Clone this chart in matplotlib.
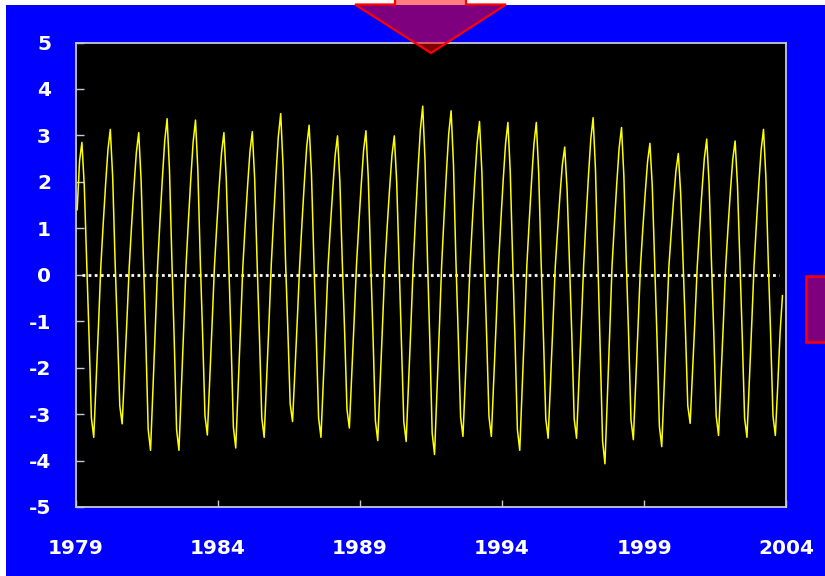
import matplotlib
matplotlib.use("Agg")
import matplotlib.pyplot as plt
import numpy as np
from matplotlib.patches import Polygon, Rectangle

plt.rcParams["axes.unicode_minus"] = False

# monthly anomaly, one row per year (Jan..Dec)
years = list(range(1979, 2004))
anomaly = [
    [1.40, 2.45, 2.85, 1.91, 0.29, -1.30, -3.08, -3.50, -2.31, -1.09, 0.19, 1.10],  # 1979
    [1.94, 2.69, 3.13, 2.10, 0.31, -1.19, -2.82, -3.21, -2.12, -1.00, 0.18, 1.07],  # 1980
    [1.90, 2.63, 3.06, 2.05, 0.31, -1.40, -3.33, -3.78, -2.49, -1.17, 0.20, 1.18],  # 1981
    [2.08, 2.89, 3.36, 2.25, 0.34, -1.40, -3.33, -3.78, -2.49, -1.17, 0.20, 1.17],  # 1982
    [2.06, 2.86, 3.33, 2.23, 0.33, -1.28, -3.04, -3.45, -2.28, -1.07, 0.18, 1.07],  # 1983
    [1.90, 2.63, 3.06, 2.05, 0.31, -1.38, -3.28, -3.73, -2.46, -1.16, 0.18, 1.08],  # 1984
    [1.91, 2.65, 3.08, 2.06, 0.31, -1.30, -3.08, -3.50, -2.31, -1.09, 0.21, 1.21],  # 1985
    [2.15, 2.98, 3.47, 2.32, 0.35, -1.17, -2.78, -3.16, -2.09, -0.98, 0.19, 1.13],  # 1986
    [2.00, 2.77, 3.22, 2.16, 0.32, -1.30, -3.08, -3.50, -2.31, -1.09, 0.18, 1.05],  # 1987
    [1.85, 2.57, 2.99, 2.00, 0.30, -1.22, -2.90, -3.30, -2.18, -1.02, 0.19, 1.09],  # 1988
    [1.92, 2.67, 3.10, 2.08, 0.31, -1.32, -3.14, -3.57, -2.36, -1.11, 0.18, 1.05],  # 1989
    [1.85, 2.57, 2.99, 2.00, 0.30, -1.33, -3.16, -3.59, -2.37, -1.11, 0.22, 1.27],  # 1990
    [2.25, 3.12, 3.63, 2.43, 0.36, -1.43, -3.41, -3.87, -2.55, -1.20, 0.21, 1.24],  # 1991
    [2.19, 3.04, 3.53, 2.37, 0.35, -1.29, -3.06, -3.48, -2.30, -1.08, 0.20, 1.16],  # 1992
    [2.05, 2.84, 3.30, 2.21, 0.33, -1.29, -3.06, -3.48, -2.30, -1.08, 0.20, 1.15],  # 1993
    [2.03, 2.82, 3.28, 2.20, 0.33, -1.40, -3.33, -3.78, -2.49, -1.17, 0.20, 1.15],  # 1994
    [2.03, 2.82, 3.28, 2.20, 0.33, -1.30, -3.10, -3.52, -2.32, -1.09, 0.17, 0.96],  # 1995
    [1.71, 2.37, 2.75, 1.84, 0.28, -1.30, -3.10, -3.52, -2.32, -1.09, 0.20, 1.18],  # 1996
    [2.10, 2.91, 3.38, 2.26, 0.34, -1.51, -3.58, -4.07, -2.69, -1.26, 0.19, 1.11],  # 1997
    [1.97, 2.73, 3.17, 2.12, 0.32, -1.31, -3.12, -3.55, -2.34, -1.10, 0.17, 0.99],  # 1998
    [1.75, 2.43, 2.83, 1.90, 0.28, -1.37, -3.26, -3.70, -2.44, -1.15, 0.16, 0.91],  # 1999
    [1.62, 2.24, 2.61, 1.75, 0.26, -1.18, -2.82, -3.20, -2.11, -0.99, 0.18, 1.02],  # 2000
    [1.81, 2.51, 2.92, 1.96, 0.29, -1.28, -3.04, -3.46, -2.28, -1.07, 0.17, 1.01],  # 2001
    [1.79, 2.48, 2.88, 1.93, 0.29, -1.30, -3.08, -3.50, -2.31, -1.09, 0.19, 1.10],  # 2002
    [1.94, 2.69, 3.13, 2.10, 0.31, -1.28, -3.04, -3.46, -2.40, -1.25, -0.45],       # 2003 (to Nov)
]

ytick_values = [-5, -4, -3, -2, -1, 0, 1, 2, 3, 4, 5]
xtick_years = [1979, 1984, 1989, 1994, 1999, 2004]

BLUE = "#0000ff"
SPINE = "#c8c8d8"
W, H = 825, 576


def fx(px):
    return px / W


def fy(py):
    return 1 - py / H


# decimal-year time stamps at mid-month
t, v = [], []
for yr, row in zip(years, anomaly):
    for m, val in enumerate(row):
        t.append(yr + (m + 0.5) / 12)
        v.append(val)

fig = plt.figure(figsize=(W / 100, H / 100), dpi=100, facecolor="white")
fig.patches.append(Rectangle((fx(6), 0), 1 - fx(6), fy(4.5), transform=fig.transFigure,
                             facecolor=BLUE, edgecolor="none", zorder=-5))

ax = fig.add_axes([fx(76), fy(507), fx(786) - fx(76), fy(42.5) - fy(507)])
ax.set_facecolor("black")
ax.plot(t, v, color="#ffff00", lw=1.1, zorder=3)
ax.axhline(0, xmin=0.008, xmax=0.99, color="white", lw=2, ls=(0, (1, 1.2)), zorder=2)

ax.set_xlim(1979, 2004)
ax.set_ylim(-5, 5)
ax.set_yticks(ytick_values)
ax.set_yticklabels([str(y) for y in ytick_values])
ax.set_xticks(xtick_years)
ax.set_xticklabels([str(y) for y in xtick_years])

for s in ax.spines.values():
    s.set_color(SPINE)
    s.set_linewidth(1.3)
ax.tick_params(axis="y", direction="in", length=6, width=1, color=SPINE,
               labelcolor="white", labelsize=14.5, pad=18)
ax.tick_params(axis="x", direction="in", length=5, width=1, color=SPINE,
               labelcolor="white", labelsize=14.5, pad=23)
for lab in ax.get_xticklabels() + ax.get_yticklabels():
    lab.set_fontweight("bold")

# callout shapes: down arrow at top and box at right edge
arrow = [(395, -2), (466, -2), (466, 4.5), (506, 4.5), (431, 53),
         (355, 4.5), (395, 4.5)]
fig.patches.append(Polygon([(fx(x), fy(y)) for x, y in arrow], closed=True,
                           transform=fig.transFigure, facecolor=(1, 0, 0, 0.5),
                           edgecolor="#ff0000", lw=1.6, zorder=10))
fig.patches.append(Rectangle((fx(806), fy(342)), fx(830) - fx(806), fy(276) - fy(342),
                             transform=fig.transFigure, facecolor=(1, 0, 0, 0.5),
                             edgecolor="#ff0000", lw=1.8, zorder=10))

fig.savefig("out.png", dpi=100, facecolor=fig.get_facecolor())
